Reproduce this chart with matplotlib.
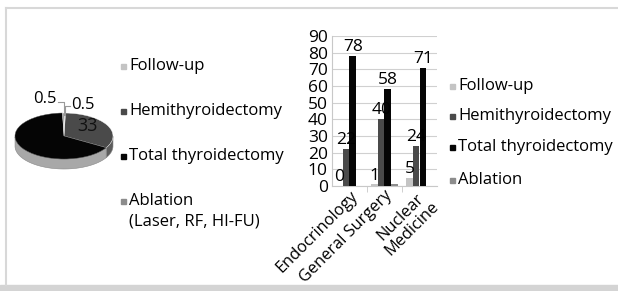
import numpy as np
import matplotlib.pyplot as plt
from matplotlib.patches import Rectangle, Wedge, Polygon

plt.rcParams['font.family'] = ['Open Sans', 'DejaVu Sans']

# pie data
pie_labels = ["Follow-up", "Hemithyroidectomy", "Total thyroidectomy", "Ablation\n(Laser, RF, HI-FU)"]
pie_values = [0.5, 33, 66, 0.5]
pie_colors = ["#c4c4c4", "#4a4a4a", "#050505", "#8c8c8c"]
pie_side = ["#b0b0b0", "#5c5c5c", "#a8a8a8", "#a0a0a0"]

# bar data
categories = ["Endocrinology", "General Surgery", "Nuclear\nMedicine"]
series = ["Follow-up", "Hemithyroidectomy", "Total thyroidectomy", "Ablation"]
follow_up = [0, 1, 5]
hemi = [22, 40, 24]
total = [78, 58, 71]
ablation = [0, 1, 0]
bar_colors = ["#c4c4c4", "#4a4a4a", "#050505", "#8c8c8c"]

W, H = 618, 291
fig = plt.figure(figsize=(W / 100, H / 100), dpi=100)

def px_axes(x0, y0, x1, y1):
    return fig.add_axes([x0 / W, 1 - y1 / H, (x1 - x0) / W, (y1 - y0) / H])

# frame
fig.add_artist(plt.Line2D([6 / W, 6 / W], [1 - 8 / H, 1 - 285 / H], color="#d8d8d8", lw=1.5))
fig.add_artist(plt.Line2D([6 / W, 1], [1 - 8 / H, 1 - 8 / H], color="#d8d8d8", lw=1.5))
fig.add_artist(Rectangle((0, 0), 1, 6 / H, transform=fig.transFigure, color="#d4d4d4"))

# ---- 3D-ish pie ----
pax = px_axes(10, 90, 118, 175)
sx, sy, d = 49.0, 23.0, 10.0  # px per unit, side thickness px
pax.set_xlim(-54 / sx, 54 / sx)
pax.set_ylim(-(175 - 136) / sy, (136 - 90) / sy)
pax.axis("off")
dd = d / sy
angles = [90]
for v in pie_values:
    angles.append(angles[-1] - v / sum(pie_values) * 360)
# side band (only front half visible)
for i in range(len(pie_values)):
    a0, a1 = angles[i + 1], angles[i]
    t = np.radians(np.linspace(a0, a1, 80))
    t = t[np.sin(t) <= 0.001]
    if len(t) < 2:
        continue
    x = np.cos(t)
    y = np.sin(t)
    pts = np.concatenate([np.c_[x, y], np.c_[x[::-1], y[::-1] - dd]])
    pax.add_patch(Polygon(pts, closed=True, facecolor=pie_side[i], edgecolor="#888888", lw=0.4))
for i in range(len(pie_values)):
    pax.add_patch(Wedge((0, 0), 1, angles[i + 1], angles[i], facecolor=pie_colors[i],
                        edgecolor="white" if i != 2 else "#555555", lw=0.3))
# pie data labels
pax.plot([-0.01, -0.01, -0.12], [0.9, 1.5, 1.5], color="#999999", lw=0.8)
pax.plot([0.03, 0.03, 0.12], [0.9, 1.3, 1.3], color="#999999", lw=0.8)
pax.text(-0.16, 1.6, f"{pie_values[3]:g}", ha="right", va="center", fontsize=12)
pax.text(0.14, 1.35, f"{pie_values[0]:g}", ha="left", va="center", fontsize=12)
pax.text(0.47, 0.45, f"{pie_values[1]:g}", ha="center", va="center", fontsize=13, color="#111111")

# pie legend
pie_leg_y = [66, 111, 156, 201]
for lab, col, y in zip(pie_labels, pie_colors, pie_leg_y):
    fig.add_artist(Rectangle((121 / W, 1 - (y + 3) / H), 5 / W, 5 / H, transform=fig.transFigure, color=col))
    lines = lab.split("\n")
    for j, line in enumerate(lines):
        fig.text(129 / W, 1 - (y + 21 * j) / H, line, ha="left", va="center", fontsize=12)

# ---- bar chart ----
bax = px_axes(332, 36, 437, 186)
x = np.arange(len(categories))
w = 0.19
data = [follow_up, hemi, total, ablation]
for k, (vals, col) in enumerate(zip(data, bar_colors)):
    pos = x + (k - 1.5) * w
    bax.bar(pos, vals, w, color=col, zorder=3)
    if k < 3:
        for p, v in zip(pos, vals):
            bax.text(p, v + 0.5, f"{v}", ha="center", va="bottom", fontsize=12.5, zorder=4)
bax.set_xlim(-0.5, 2.5)
bax.set_ylim(0, 90)
bax.set_yticks(range(0, 91, 10))
bax.yaxis.grid(True, color="#d0d0d0", lw=0.8)
bax.set_axisbelow(True)
for s in ["top", "right"]:
    bax.spines[s].set_visible(False)
bax.spines["left"].set_color("#c8c8c8")
bax.spines["bottom"].set_color("#c8c8c8")
bax.tick_params(axis="y", length=0, labelsize=12.5, pad=3)
bax.set_xticks([0.5, 1.5], minor=True)
bax.tick_params(axis="x", which="minor", length=4, color="#c8c8c8")
bax.set_xticks(x)
bax.set_xticklabels(categories, rotation=45, ha="right", rotation_mode="anchor",
                    fontsize=11.8, multialignment="center", linespacing=0.95)
bax.tick_params(axis="x", which="major", length=0, pad=1)

# bar legend
bar_leg_y = [86, 116, 147, 180]
for lab, col, y in zip(series, bar_colors, bar_leg_y):
    fig.add_artist(Rectangle((450 / W, 1 - (y + 3) / H), 5 / W, 5 / H, transform=fig.transFigure, color=col))
    fig.text(458 / W, 1 - y / H, lab, ha="left", va="center", fontsize=12)

fig.savefig("out.png", dpi=100)
